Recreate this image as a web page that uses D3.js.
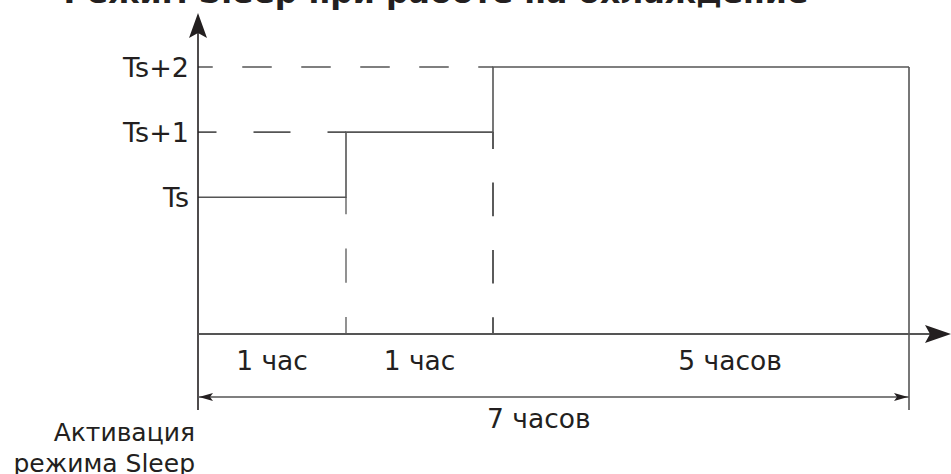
<!DOCTYPE html>
<html><head><meta charset="utf-8">
<script src="https://cdn.jsdelivr.net/npm/d3@7"></script>
<style>
html,body{margin:0;padding:0;background:#fff;}
svg{display:block;font-family:"DejaVu Sans",Verdana,sans-serif;}
</style></head>
<body>
<svg id="chart" width="951" height="474"></svg>
<script>
// ---- data ----
const title = "Режим Sleep при работе на охлаждение";
const levelLabels = ["Ts", "Ts+1", "Ts+2"];
const levelValues = [0, 1, 2];
const stepHours = [0, 1, 2, 7];          // time breakpoints (hours)
const stepLevels = [0, 1, 2, 2];         // setpoint offset from Ts
const durationLabels = ["1 час", "1 час", "5 часов"];
const durationLabelHours = [0.5, 1.5, 4.85];
const totalLabel = "7 часов";
const totalLabelHour = 2.55;
const startLabel = ["Активация", "режима Sleep"];

// ---- layout ----
const svg = d3.select("#chart");
const ink = "#231f20", lineCol = "#555";
const x = d3.scaleLinear().domain(stepHours).range([198, 346, 493, 909]);
const y = d3.scaleLinear().domain([-2.1, 2]).range([334, 67]);
const x0 = x(0), yAxis = y(-2.1);
const dimY = 397, lowEnd = 410;

// title (partially cut off at top, as in the reference)
const t = svg.append("text").attr("x", 436).attr("y", 3)
  .attr("text-anchor", "middle").attr("font-weight", "bold")
  .attr("font-size", 28).attr("fill", ink).text(title);
const tw = t.node().getComputedTextLength();
t.attr("font-size", 28 * 745 / tw);

// helper: dashed line with half dashes at both ends
function dashed(x1, y1, x2, y2, col) {
  const L = Math.hypot(x2 - x1, y2 - y1);
  const k = Math.max(1, Math.round(L / 60));
  const d = L / (2 * k);
  svg.append("line").attr("x1", x1).attr("y1", y1).attr("x2", x2).attr("y2", y2)
    .attr("stroke", col).attr("stroke-width", 1.6)
    .attr("stroke-dasharray", d + "," + d).attr("stroke-dashoffset", d / 2);
}

// horizontal dashed guides from axis to step levels
levelValues.slice(1).forEach((lv, i) => {
  dashed(x0, y(lv), x(stepHours[i + 1]), y(lv), lineCol);
});
// vertical dashed guides from step corner down to axis
levelValues.slice(0, 2).forEach((lv, i) => {
  const h = stepHours[i + 1];
  dashed(x(h), y(lv), x(h), yAxis, i === 0 ? "#777" : "#333");
});

// step line
const pts = stepHours.map((h, i) => [h, stepLevels[i]]);
svg.append("path").datum(pts)
  .attr("d", d3.line().x(d => x(d[0])).y(d => y(d[1])).curve(d3.curveStepAfter))
  .attr("fill", "none").attr("stroke", lineCol).attr("stroke-width", 1.6);
// end boundary
svg.append("line").attr("x1", x(7)).attr("x2", x(7))
  .attr("y1", y(stepLevels[3])).attr("y2", lowEnd)
  .attr("stroke", lineCol).attr("stroke-width", 1.6);

// axes
svg.append("line").attr("x1", x0).attr("x2", x0).attr("y1", lowEnd).attr("y2", 30)
  .attr("stroke", ink).attr("stroke-width", 1.6);
svg.append("line").attr("x1", x0).attr("x2", 935).attr("y1", yAxis).attr("y2", yAxis)
  .attr("stroke", lineCol).attr("stroke-width", 1.8);
// arrowheads (stealth)
svg.append("path").attr("fill", ink)
  .attr("d", `M${x0},13 L${x0 + 9},38 L${x0},33 L${x0 - 9},38 Z`);
svg.append("path").attr("fill", ink)
  .attr("d", `M951,${yAxis} L925,${yAxis - 9} L930,${yAxis} L925,${yAxis + 9} Z`);

// dimension line
svg.append("line").attr("x1", x0).attr("x2", x(7)).attr("y1", dimY).attr("y2", dimY)
  .attr("stroke", lineCol).attr("stroke-width", 1.4);
svg.append("path").attr("fill", ink)
  .attr("d", `M${x0 + 1},${dimY} L${x0 + 15},${dimY - 4} L${x0 + 12},${dimY} L${x0 + 15},${dimY + 4} Z`);
svg.append("path").attr("fill", ink)
  .attr("d", `M${x(7) - 1},${dimY} L${x(7) - 15},${dimY - 4} L${x(7) - 12},${dimY} L${x(7) - 15},${dimY + 4} Z`);

// y labels
svg.selectAll(".lvl").data(levelLabels).join("text")
  .attr("x", 189).attr("y", (d, i) => y(levelValues[i]) + 10)
  .attr("text-anchor", "end").attr("font-size", 27).attr("fill", ink).text(d => d);

// duration labels
svg.selectAll(".dur").data(durationLabels).join("text")
  .attr("x", (d, i) => x(durationLabelHours[i])).attr("y", 370)
  .attr("text-anchor", "middle").attr("font-size", 26.5).attr("fill", ink).text(d => d);
svg.append("text").attr("x", x(totalLabelHour)).attr("y", 428)
  .attr("text-anchor", "middle").attr("font-size", 26.5).attr("fill", ink).text(totalLabel);

// start label
svg.selectAll(".start").data(startLabel).join("text")
  .attr("x", 195).attr("y", (d, i) => 441 + i * 31)
  .attr("text-anchor", "end").attr("font-size", 25).attr("fill", ink).text(d => d);
</script>
</body></html>
